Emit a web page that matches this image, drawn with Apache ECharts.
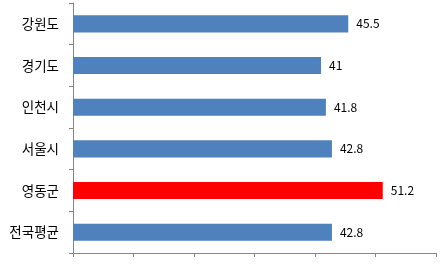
<!DOCTYPE html>
<html><head><meta charset="utf-8">
<script src="https://cdn.jsdelivr.net/npm/echarts@6/dist/echarts.min.js"></script>
<style>html,body{margin:0;padding:0;background:#fff}#c{width:445px;height:265px}</style>
</head><body><div id="c"></div>
<script>
const categories = ['강원도','경기도','인천시','서울시','영동군','전국평균'];
const values = [45.5, 41, 41.8, 42.8, 51.2, 42.8];
const highlight = '영동군';
const axisMin = 0, axisMax = 60, axisStep = 10;

const chart = echarts.init(document.getElementById('c'));
chart.setOption({
  animation: false,
  grid: {left: 73, right: 9, top: 3, bottom: 12, containLabel: false},
  xAxis: {
    type: 'value', min: axisMin, max: axisMax, interval: axisStep,
    axisLine: {show: true, lineStyle: {color: '#868686', width: 1}},
    axisTick: {show: true, length: 4, lineStyle: {color: '#868686'}},
    axisLabel: {show: false},
    splitLine: {show: false}
  },
  yAxis: {
    type: 'category', data: categories, inverse: true,
    axisLine: {show: true, lineStyle: {color: '#868686', width: 1}},
    axisTick: {show: true, length: 4, lineStyle: {color: '#868686'}},
    axisLabel: {color: '#000', fontSize: 13.5, fontFamily: 'Noto Sans CJK KR', margin: 14}
  },
  series: [{
    type: 'bar',
    data: values.map((v, i) => ({value: v, itemStyle: {color: categories[i] === highlight ? '#FF0000' : '#4F81BD'}})),
    barCategoryGap: '59%',
    label: {show: true, position: 'right', distance: 8, color: '#000', fontSize: 12, fontFamily: 'Noto Sans CJK KR'}
  }]
});
</script></body></html>
